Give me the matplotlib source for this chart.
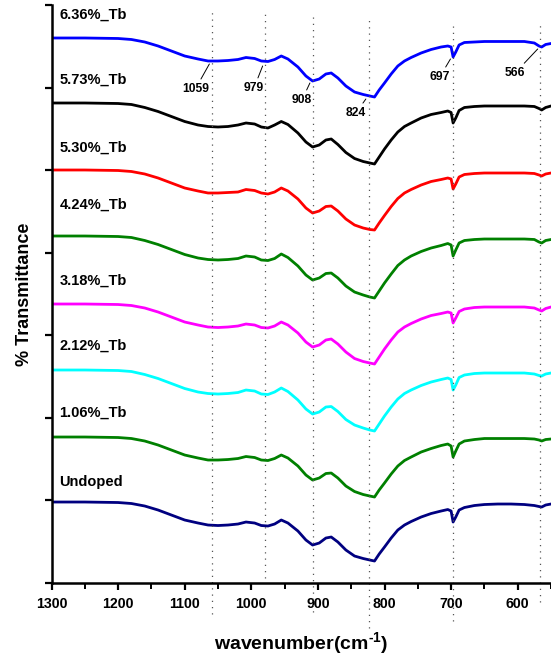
import numpy as np
import matplotlib
matplotlib.use("Agg")
import matplotlib.pyplot as plt

plt.rcParams['font.family'] = ['Liberation Sans', 'DejaVu Sans']
plt.rcParams['font.weight'] = 'bold'
plt.rcParams['mathtext.fontset'] = 'custom'
plt.rcParams['mathtext.rm'] = 'Liberation Sans:bold'
plt.rcParams['mathtext.bf'] = 'Liberation Sans:bold'

# wavenumber grid (cm-1)
wavenumber = [1300, 1250, 1200, 1180, 1160, 1140, 1120, 1100, 1080, 1065,
              1050, 1035, 1020, 1008, 995, 985, 975, 965, 955, 945,
              930, 918, 908, 898, 888, 880, 870, 858, 845, 832,
              822, 815, 808, 800, 790, 780, 770, 760, 745, 730,
              715, 705, 700, 697, 693, 688, 680, 665, 650, 630,
              610, 590, 575, 568, 564, 558, 550]

# transmittance (a.u.) of each sample
undoped = [100, 100, 99.5, 98.5, 96, 92, 87, 82, 79, 77,
           76.5, 77, 78, 80, 79, 76.5, 76, 78, 82, 79,
           71, 62, 57, 59, 64, 65, 60, 52, 46, 43.5,
           42, 41, 48, 55, 64, 72, 77, 80.5, 85, 88.5,
           91, 92.5, 91, 80, 85, 92, 94.5, 96.5, 97.5, 98,
           98, 97.5, 96.5, 95.5, 95, 97, 98]
tb_106 = [100, 100, 99.5, 98.5, 96, 92, 87, 82, 79, 77,
          77, 77.5, 78.5, 80.5, 79.5, 77, 76.5, 78.5, 82, 79,
          71, 62, 57, 59, 63.5, 64, 59, 51, 45.5, 42.5,
          41, 40, 47, 54, 63, 71, 76.5, 80, 85, 88.5,
          91.5, 93, 91, 80, 86, 93, 96, 97.5, 98.5, 98.5,
          98.5, 98.5, 98, 97, 96, 97.5, 98]
tb_212 = [100, 100, 99.5, 98.5, 95.5, 91.5, 86.5, 81.5, 78, 76.5,
          76, 76.5, 77.5, 80, 79, 76, 75.5, 78, 82, 78.5,
          70, 61, 56, 58, 63, 63.5, 58.5, 50.5, 45, 42,
          40, 39, 46, 54, 63, 71, 76.5, 80, 84.5, 88,
          90.5, 92, 90.5, 80, 85, 92.5, 95, 96.5, 97, 97,
          97, 97, 96, 94.5, 94, 96, 97]
tb_318 = [100, 100, 99.5, 98.5, 96, 92, 87, 82, 79, 77,
          76.5, 77, 78, 80, 79, 76.5, 76, 78, 82, 79,
          71, 62, 57, 59, 64, 65, 60, 52, 45.5, 42.5,
          41, 40, 47, 55, 64, 72, 77, 80.5, 85, 88.5,
          90.5, 92, 91, 81, 86, 92.5, 95, 96.5, 97, 97,
          97, 97, 96, 94, 93, 95.5, 97]
tb_424 = [100, 100, 99.5, 98.5, 95.5, 91.5, 86.5, 81.5, 78, 76.5,
          76, 76.5, 77.5, 80, 79, 76, 75.5, 77.5, 82, 78.5,
          70, 61, 56, 58, 62.5, 63, 58, 50, 44, 41,
          39, 38, 45, 53, 62, 70.5, 76, 80, 84.5, 88,
          90.5, 92.5, 91, 80, 86, 93, 95.5, 96.5, 97, 97,
          97, 97, 96.5, 94, 93, 95.5, 96.5]
tb_530 = [100, 100, 99.5, 98.5, 96, 92, 87, 82, 79, 77,
          77, 77.5, 78, 80.5, 79.5, 77, 76, 78, 82, 79,
          71, 62, 57, 59, 63.5, 64, 59, 51, 45, 42,
          40.5, 40, 47, 54.5, 63.5, 71.5, 77, 80.5, 85, 88.5,
          90.5, 92, 91, 81, 86, 93, 95.5, 96.5, 97, 97,
          97, 97, 96.5, 95, 94, 96, 97]
tb_573 = [100, 100, 99.5, 98.5, 95.5, 91.5, 86.5, 81.5, 78, 76.5,
          76, 76.5, 78, 80, 79, 76, 75, 78, 81.5, 78.5,
          70, 61, 56, 58, 63, 64, 58.5, 50.5, 44.5, 41.5,
          40, 39, 46, 54, 63, 71, 76.5, 80, 85, 88.5,
          90.5, 92, 90.5, 80, 85, 92.5, 95.5, 96.5, 97, 97,
          97, 97, 96.5, 94.5, 93, 95.5, 97]
tb_636 = [100, 100, 99.5, 98.5, 96, 92, 87, 82, 79, 77,
          77, 77.5, 78.5, 80.5, 79.5, 77, 76.5, 78.5, 82, 79,
          71, 62, 57, 59, 64, 65, 60, 52, 46, 43.5,
          42, 41, 48, 55, 64, 72, 77, 80.5, 85, 88.5,
          91, 92, 91, 81, 86, 93, 95.5, 96, 96.5, 96.5,
          96.5, 96.5, 95, 92, 91, 93.5, 94.5]

labels = ['6.36%_Tb', '5.73%_Tb', '5.30%_Tb', '4.24%_Tb',
          '3.18%_Tb', '2.12%_Tb', '1.06%_Tb', 'Undoped']
series = [tb_636, tb_573, tb_530, tb_424, tb_318, tb_212, tb_106, undoped]
offsets = [445, 380, 313, 247, 179, 113, 46, -19]
colors = ['#0000ff', '#000000', '#ff0000', '#008000',
          '#ff00ff', '#00ffff', '#008000', '#000080']
label_y = [568, 503, 435, 378, 302, 237, 170, 101]

# marked peaks
peaks = [1059, 979, 908, 824, 697, 566]
peak_tip_y = [519, 517, 500, 484, 524, 534]
peak_text_xy = [(1084, 494), (996, 495), (924, 483), (843, 470), (717, 506), (604, 510)]
vline_top = [573, 570, 568, 566, 561, 560]
vline_bottom = [-31, 5, -29, -45, -38, -19]

fig = plt.figure(figsize=(5.51, 6.57), dpi=100)
ax = fig.add_axes([0.0935, 0.1126, 0.9065, 0.8798])

for vals, off, c in zip(series, offsets, colors):
    ax.plot(wavenumber, np.array(vals) + off, color=c, lw=2.0, solid_joinstyle='round')

for lab, ly in zip(labels, label_y):
    ax.text(1288, ly, lab, ha='left', va='center', fontsize=10.5, fontweight='bold')

for p, t, b in zip(peaks, vline_top, vline_bottom):
    ax.vlines(p, b, t, colors='#555555', linestyles=(0, (1, 4)), lw=0.9, clip_on=False)

for p, ty, txy in zip(peaks, peak_tip_y, peak_text_xy):
    ax.annotate(str(p), xy=(p + 4, ty), xytext=txy, ha='center', va='center',
                fontsize=8.7, fontweight='bold',
                arrowprops=dict(arrowstyle='-', lw=0.7, color='black',
                                shrinkA=1, shrinkB=0))

ax.set_xlim(1300, 550)
ax.set_ylim(0, 578)
ax.set_xticks(np.arange(1300, 549, -100))
ax.set_xticks(np.arange(1250, 549, -100), minor=True)
ax.set_yticks(np.arange(0, 579, 82.57))
ax.set_yticklabels([])

for s in ['top', 'right']:
    ax.spines[s].set_visible(False)
for s in ['left', 'bottom']:
    ax.spines[s].set_linewidth(1.8)

ax.tick_params(axis='x', which='major', direction='out', length=5, width=1.6,
               labelsize=10.2, pad=5)
ax.tick_params(axis='x', which='minor', direction='out', length=4, width=1.4)
ax.tick_params(axis='y', direction='out', length=5, width=1.6)
for lab in ax.get_xticklabels():
    lab.set_fontweight('bold')

ax.set_xlabel('wavenumber(cm$^{\\mathbf{\u20101}}$)', fontsize=14, fontweight='bold', labelpad=14)
ax.set_ylabel('% Transmittance', fontsize=13, fontweight='bold', labelpad=5)

fig.savefig('out.png', dpi=100)
